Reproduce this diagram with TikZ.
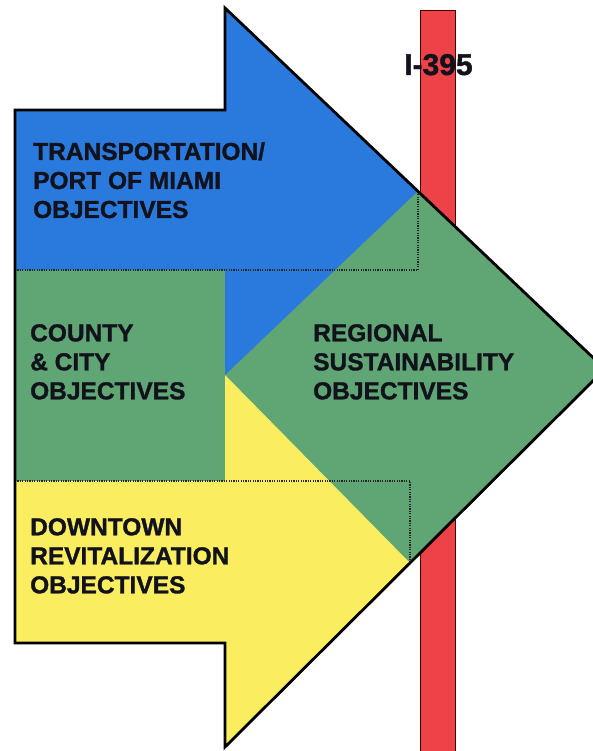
\documentclass[tikz,border=0pt]{standalone}
\usepackage{fontspec}
\setmainfont{Liberation Sans}
\newfontfamily\heavyfont{Liberation Sans Bold}[FakeBold=1.3]
\definecolor{cblue}{RGB}{42,122,222}
\definecolor{cgreen}{RGB}{96,166,116}
\definecolor{cyellow}{RGB}{250,238,96}
\definecolor{cred}{RGB}{236,66,72}
\definecolor{ctext}{RGB}{18,18,28}
\begin{document}
\begin{tikzpicture}[x=1pt,y=-1pt,
  lbl/.style={font=\fontsize{24.5}{29}\heavyfont, anchor=north west, inner sep=0pt, align=left, text=ctext},
  dotline/.style={draw=black!85, line width=1.2pt, dash pattern=on 1.2pt off 1.2pt},
  outline/.style={draw=black, line width=2.8pt, line join=miter},
  bar/.style={fill=cred, draw=black!70!red, line width=0.8pt}]
\path[use as bounding box] (0,0) rectangle (593,751);
\clip (0,0) rectangle (593,751);
% key points
\coordinate (tl) at (15,110);
\coordinate (nt) at (225,110);
\coordinate (top) at (225,8);
\coordinate (tip) at (605,369);
\coordinate (bot) at (225,747);
\coordinate (nb) at (225,643);
\coordinate (bl) at (15,643);
\coordinate (bu) at (418,191);
\coordinate (yl) at (410,563);
\coordinate (mid) at (225,375);
% red bar
\draw[bar] (420,10) rectangle (455,760);
% arrow fills
\fill[cgreen] (tl) -- (nt) -- (top) -- (tip) -- (bot) -- (nb) -- (bl) -- cycle;
\fill[cblue] (tl) -- (nt) -- (top) -- (bu) -- (mid) -- (225,270) -- (15,270) -- cycle;
\fill[cyellow] (mid) -- (yl) -- (bot) -- (nb) -- (bl) -- (15,481) -- (225,481) -- cycle;
% dotted borders
\draw[dotline] (15,270) -- (418,270) -- (bu);
\draw[dotline] (15,481) -- (410,481) -- (yl);
% outline
\draw[outline] (tl) -- (nt) -- (top) -- (tip) -- (bot) -- (nb) -- (bl) -- cycle;
% labels
\node[lbl] (transp) at (33,142) {TRANSPORTATION/\\PORT OF MIAMI\\OBJECTIVES};
\node[lbl] (county) at (30,324) {COUNTY\\\& CITY\\OBJECTIVES};
\node[lbl] (region) at (313,324) {REGIONAL\\SUSTAINABILITY\\OBJECTIVES};
\node[lbl] (downt) at (30,518) {DOWNTOWN\\REVITALIZATION\\OBJECTIVES};
\node[font=\fontsize{30}{34}\heavyfont, text=ctext, anchor=base, inner sep=0pt] (i395) at (438.5,75) {I-395};
\end{tikzpicture}
\end{document}
